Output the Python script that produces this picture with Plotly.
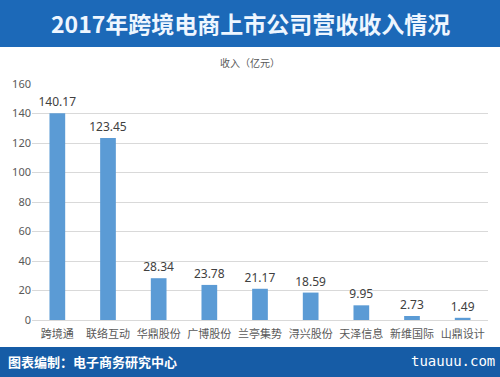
import plotly.graph_objects as go

categories = ["跨境通", "联络互动", "华鼎股份", "广博股份", "兰亭集势", "浔兴股份", "天泽信息", "新维国际", "山鼎设计"]
values = [140.17, 123.45, 28.34, 23.78, 21.17, 18.59, 9.95, 2.73, 1.49]
value_labels = ["140.17", "123.45", "28.34", "23.78", "21.17", "18.59", "9.95", "2.73", "1.49"]
y_ticks = [0, 20, 40, 60, 80, 100, 120, 140, 160]

W, H = 500, 377
L, R, T, B = 32, 12, 84, 320
PW, PH = W - L - R, B - T

fig = go.Figure(go.Bar(
    x=categories, y=values, text=value_labels, textposition="outside",
    constraintext="none",
    marker=dict(color="#5b9bd5", line=dict(width=0)), width=0.31,
    textfont=dict(size=12, color="#404040", family="Noto Sans, sans-serif"),
    cliponaxis=False,
))

fig.update_layout(
    width=W, height=H,
    margin=dict(l=L, r=R, t=T, b=H - B),
    paper_bgcolor="white", plot_bgcolor="white",
    showlegend=False,
    font=dict(family="Noto Sans CJK SC, sans-serif", color="#595959"),
    xaxis=dict(showline=True, linecolor="#d9d9d9", tickfont=dict(size=11, color="#595959"),
               ticks="", fixedrange=True, ticklabelstandoff=4),
    yaxis=dict(range=[0, 160], tickvals=y_ticks, showgrid=True, gridcolor="#d9d9d9",
               zeroline=False, tickfont=dict(size=11, color="#595959", family="Noto Sans, sans-serif"),
               ticks="", ticklen=0, fixedrange=True),
    shapes=[
        dict(type="rect", xref="paper", yref="paper", x0=-L / PW, x1=1 + R / PW,
             y0=1 + (T - 47) / PH, y1=1 + T / PH, fillcolor="#1c69b8", line=dict(width=0), layer="below"),
        dict(type="rect", xref="paper", yref="paper", x0=-L / PW, x1=1 + R / PW,
             y0=-(H - B) / PH, y1=-(347 - B) / PH, fillcolor="#165ca6", line=dict(width=0), layer="below"),
    ],
    annotations=[
        dict(text="<b>2017年跨境电商上市公司营收收入情况</b>", xref="paper", yref="paper",
             x=(250 - L) / PW, y=1 + (T - 23) / PH, xanchor="center", yanchor="middle", showarrow=False,
             font=dict(size=23, color="#eef6ff", family="Noto Sans CJK SC, sans-serif")),
        dict(text="收入（亿元）", xref="paper", yref="paper",
             x=(250 - L) / PW, y=1 + (T - 62) / PH, xanchor="center", yanchor="middle", showarrow=False,
             font=dict(size=10, color="#595959")),
        dict(text="<b>图表编制：电子商务研究中心</b>", xref="paper", yref="paper",
             x=(6 - L) / PW, y=-(361 - B) / PH, xanchor="left", yanchor="middle",
             showarrow=False, font=dict(size=13, color="white", family="Noto Sans CJK SC, sans-serif")),
        dict(text="tuauuu.com", xref="paper", yref="paper",
             x=1 + (R - 3) / PW, y=-(361 - B) / PH, xanchor="right", yanchor="middle",
             showarrow=False, font=dict(size=14, color="white", family="DejaVu Sans Mono, monospace")),
    ],
)

fig.write_html("out.html", config={"displayModeBar": False},
               post_script="document.body.style.margin='0';document.body.style.overflow='hidden';")
